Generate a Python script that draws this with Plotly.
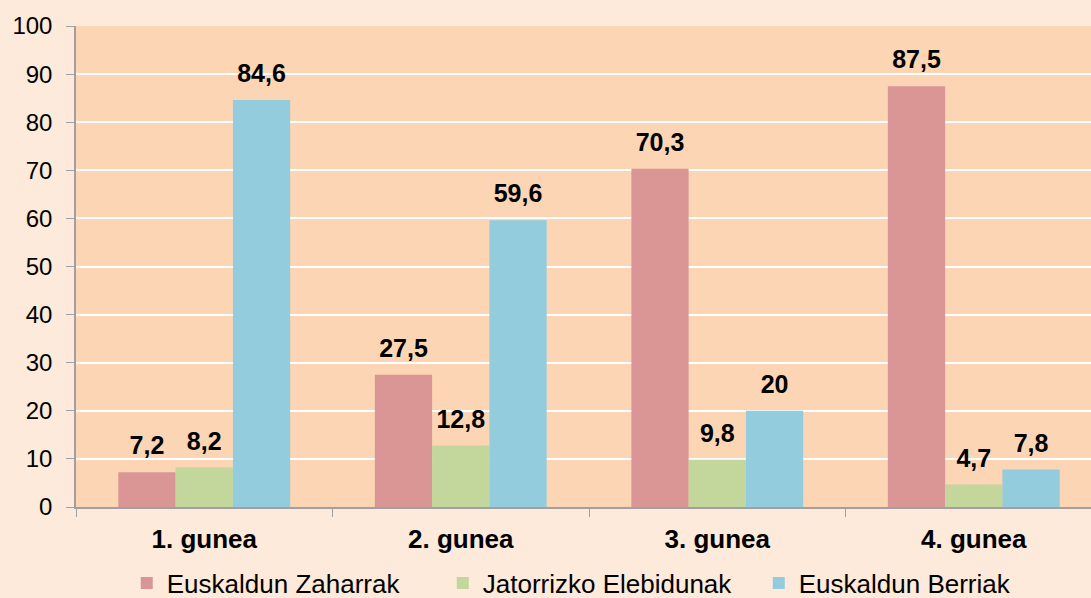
import plotly.graph_objects as go

categories = ["1. gunea", "2. gunea", "3. gunea", "4. gunea"]
series_names = ["Euskaldun Zaharrak", "Jatorrizko Elebidunak", "Euskaldun Berriak"]
zaharrak = [7.2, 27.5, 70.3, 87.5]
elebidunak = [8.2, 12.8, 9.8, 4.7]
berriak = [84.6, 59.6, 20, 7.8]
y_ticks = [0, 10, 20, 30, 40, 50, 60, 70, 80, 90, 100]

colors = ["#D99694", "#C3D69B", "#93CDDD"]
series = [zaharrak, elebidunak, berriak]

def fmt(v):
    s = ("%g" % v)
    return s.replace(".", ",")

FONT = "Arial, 'Liberation Sans', sans-serif"

fig = go.Figure()
for name, vals, col in zip(series_names, series, colors):
    fig.add_trace(go.Bar(
        x=categories, y=vals, name=name,
        marker=dict(color=col, line=dict(width=0)),
        hoverinfo="skip",
    ))
for name, vals in zip(series_names, series):
    fig.add_trace(go.Scatter(
        x=categories, y=vals, mode="markers+text",
        text=[fmt(v) for v in vals], textposition="top center",
        textfont=dict(family=FONT, size=25, color="#000000", weight="bold"),
        marker=dict(size=17, opacity=0),
        showlegend=False, hoverinfo="skip", cliponaxis=False,
    ))

fig.update_layout(
    width=1091, height=598,
    margin=dict(l=76, r=0, t=26, b=91, autoexpand=False),
    paper_bgcolor="#FDEADA",
    plot_bgcolor="#FCD5B5",
    barmode="group", bargap=0.33, bargroupgap=0,
    scattermode="group", scattergap=0.33,
    font=dict(family=FONT, color="#000000"),
    legend=dict(
        orientation="h", x=0.517, xanchor="center", y=-0.158, yanchor="middle",
        font=dict(family=FONT, size=26, color="#000000"),
        bgcolor="rgba(0,0,0,0)", itemwidth=30, entrywidth=271,
    ),
    xaxis=dict(
        range=[-0.5, 3.457], tickson="boundaries", ticks="outside", ticklen=8,
        tickcolor="#A0A0A0", showline=True, linecolor="#A0A0A0", linewidth=1.5,
        showgrid=False, tickfont=dict(family=FONT, size=26, weight="bold"),
        ticklabelstandoff=8,
    ),
    yaxis=dict(
        range=[0, 100], tickvals=y_ticks, ticks="outside", ticklen=8,
        tickcolor="#A0A0A0", showline=True, linecolor="#A0A0A0", linewidth=1.5,
        showgrid=True, gridcolor="#FFFFFF", gridwidth=1.5, zeroline=False,
        tickfont=dict(family=FONT, size=24), ticklabelstandoff=9,
    ),
)

fig.write_html(
    "out.html",
    config={"displayModeBar": False},
    post_script="document.body.style.margin='0';document.body.style.overflow='hidden';",
)
